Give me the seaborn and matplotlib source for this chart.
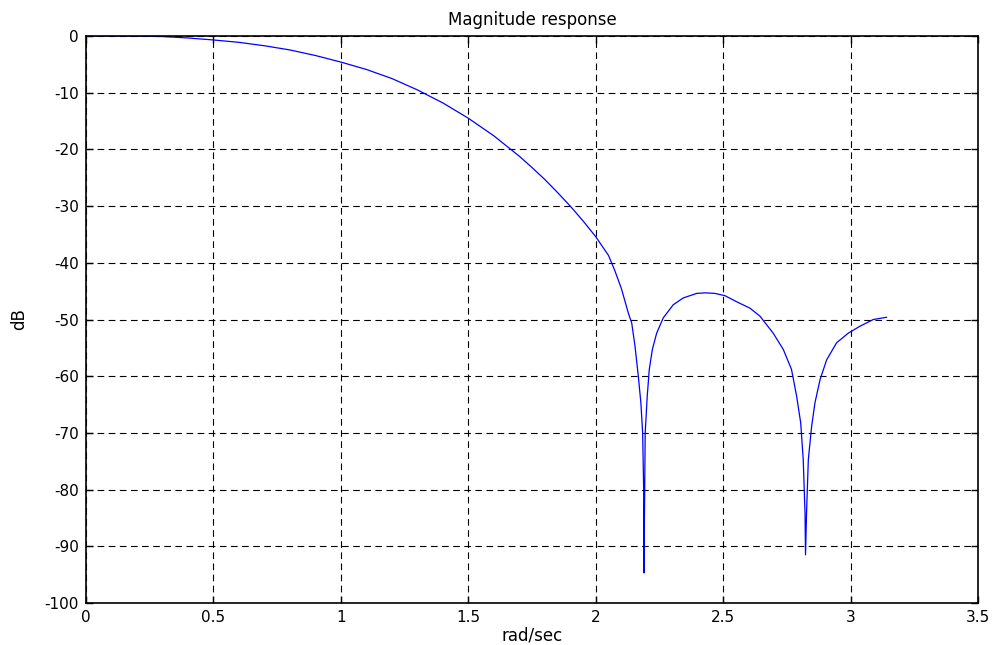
import pandas as pd
from matplotlib import pyplot as plt
import seaborn as sns

# frequency (rad/sec) and magnitude (dB)
freq = [0.0, 0.1, 0.2, 0.3, 0.4, 0.5, 0.6, 0.7, 0.8, 0.9, 1.0, 1.1, 1.2, 1.3,
        1.4, 1.5, 1.6, 1.7, 1.75, 1.8, 1.85, 1.9, 1.95, 2.0, 2.05, 2.075, 2.101,
        2.128, 2.141, 2.154, 2.167, 2.177, 2.184, 2.188, 2.189, 2.192, 2.194,
        2.202, 2.21, 2.222, 2.239, 2.265, 2.304, 2.343, 2.396, 2.43, 2.468,
        2.507, 2.554, 2.605, 2.644, 2.696, 2.736, 2.768, 2.788, 2.804, 2.814,
        2.821, 2.823, 2.827, 2.834, 2.847, 2.86, 2.88, 2.906, 2.945, 2.991,
        3.036, 3.089, 3.1416]
mag = [0.0, 0.0, -0.02, -0.1, -0.35, -0.7, -1.12, -1.72, -2.46, -3.44, -4.6,
       -5.9, -7.5, -9.5, -11.8, -14.5, -17.6, -21.2, -23.2, -25.3, -27.6, -30.0,
       -32.6, -35.4, -38.7, -41.4, -44.6, -48.9, -50.6, -54.7, -60.0, -64.7,
       -70.0, -80.0, -94.7, -80.0, -70.0, -63.5, -58.8, -55.3, -52.4, -49.7,
       -47.4, -46.2, -45.4, -45.3, -45.4, -45.8, -46.9, -48.0, -49.4, -52.4,
       -55.3, -58.8, -63.5, -68.2, -74.7, -84.1, -91.5, -84.1, -74.7, -68.8,
       -64.7, -60.6, -57.1, -54.1, -52.4, -51.2, -50.0, -49.6]

x_ticks = [0, 0.5, 1, 1.5, 2, 2.5, 3, 3.5]
x_labels = ["0", "0.5", "1", "1.5", "2", "2.5", "3", "3.5"]
y_ticks = list(range(-100, 1, 10))

sns.set_style("ticks")
plt.rcParams["font.family"] = ["DejaVu Sans"]
plt.rcParams["axes.unicode_minus"] = False
plt.rcParams["text.color"] = "black"
plt.rcParams["axes.labelcolor"] = "black"

plot_data = pd.DataFrame({"rad/sec": freq, "dB": mag})

fig = plt.figure(figsize=(9.95, 6.45), dpi=100)
ax = fig.add_axes([0.0864, 0.0651, 0.8966, 0.8791])
sns.lineplot(data=plot_data, x="rad/sec", y="dB", sort=False, estimator=None,
             color="#0000ff", linewidth=0.9, ax=ax)

ax.set_xlim(0, 3.5)
ax.set_ylim(-100, 0)
ax.set_xticks(x_ticks)
ax.set_xticklabels(x_labels)
ax.set_yticks(y_ticks)
ax.set_yticklabels([str(y) for y in y_ticks])
ax.tick_params(direction="in", length=5, width=1, top=True, right=True,
               labelsize=11, colors="black", pad=5)
ax.grid(True, color="black", linestyle=(0, (6, 4)), linewidth=0.8)
for side in ax.spines.values():
    side.set_linewidth(1.2)
    side.set_color("black")

ax.set_title("Magnitude response", fontsize=12, pad=8, color="black")
ax.set_xlabel("rad/sec", fontsize=12, labelpad=1, color="black")
ax.set_ylabel("dB", fontsize=12, labelpad=12, color="black")

fig.savefig("out.png", dpi=100)
